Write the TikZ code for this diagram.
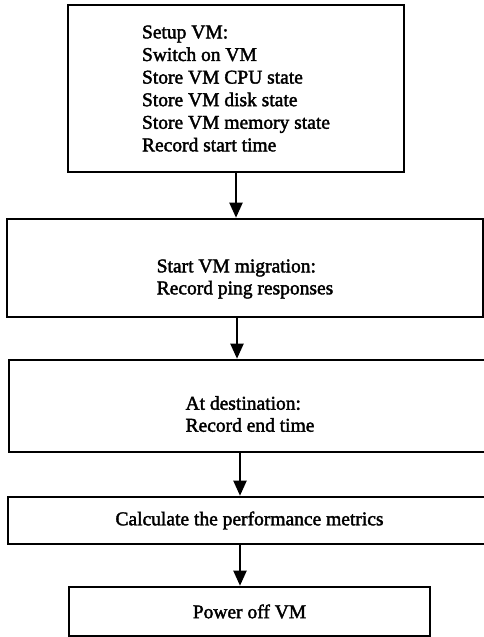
\documentclass[tikz,border=0pt]{standalone}
\usepackage{fontspec}
\setmainfont{Liberation Serif}
\newfontfamily\boxfont{Liberation Serif}[FakeBold=2]
\usetikzlibrary{arrows.meta}
\begin{document}
\begin{tikzpicture}[x=1pt,y=1pt,
  box/.style={draw=black, line width=2.6pt, inner sep=0pt, align=left,
    font=\boxfont\fontsize{19.5}{22.6}\selectfont},
  txt/.style={inner sep=0pt, align=left, font=\boxfont\fontsize{19.5}{22}\selectfont},
  arr/.style={line width=2pt, -{Triangle[width=13pt,length=15pt]}}]
\useasboundingbox (0,0) rectangle (484,-637);
\clip (0,0) rectangle (484,-637);
\node[box, minimum width=336pt, minimum height=167pt] (b1) at (236,-88.5)
  {Setup VM:\\Switch on VM\\Store VM CPU state\\Store VM disk state\\Store VM memory state\\Record start time};
\node[box, minimum width=476pt, minimum height=98pt,
  label={[txt, yshift=-11pt]center:{Start VM migration:\\Record ping responses}}] (b2) at (245,-268) {};
\node[box, minimum width=482pt, minimum height=92pt,
  label={[txt, yshift=-8pt]center:{At destination:\\Record end time}}] (b3) at (250,-406) {};
\node[box, minimum width=483pt, minimum height=47pt] (b4) at (249.5,-520.5)
  {Calculate the performance metrics};
\node[box, minimum width=361pt, minimum height=49pt] (b5) at (249.5,-611.5)
  {Power off VM};
\coordinate (c1) at (236,0);
\coordinate (c2) at (237,0);
\coordinate (c3) at (240,0);
\draw[arr] (c1 |- b1.south) -- (c1 |- b2.north);
\draw[arr] (c2 |- b2.south) -- (c2 |- b3.north);
\draw[arr] (c3 |- b3.south) -- (c3 |- b4.north);
\draw[arr] (c3 |- b4.south) -- (c3 |- b5.north);
\end{tikzpicture}
\end{document}
